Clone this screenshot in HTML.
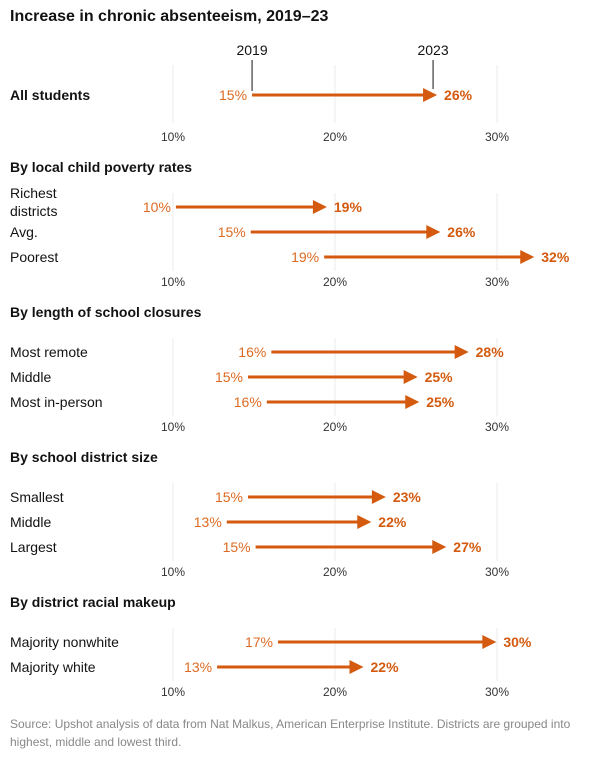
<!DOCTYPE html>
<html><head><meta charset="utf-8">
<style>
html,body{margin:0;padding:0;background:#fff;}
body{width:604px;height:767px;overflow:hidden;font-family:"Liberation Sans",sans-serif;}
svg text{font-family:"Liberation Sans",sans-serif;}
</style></head>
<body>
<svg id="chart" width="604" height="767" xmlns="http://www.w3.org/2000/svg">
<text x="10" y="21" font-size="16" font-weight="bold" fill="#121212">Increase in chronic absenteeism, 2019–23</text>
<text x="10" y="728" font-size="12" fill="#888">Source: Upshot analysis of data from Nat Malkus, American Enterprise Institute. Districts are grouped into</text>
<text x="10" y="746" font-size="12" fill="#888">highest, middle and lowest third.</text>
</svg>
<script>
var sectionTitles = ["", "By local child poverty rates", "By length of school closures", "By school district size", "By district racial makeup"];
var rowLabels = [["All students"], ["Richest|districts", "Avg.", "Poorest"], ["Most remote", "Middle", "Most in-person"], ["Smallest", "Middle", "Largest"], ["Majority nonwhite", "Majority white"]];
var startValues = [[14.88], [10.18, 14.8, 19.33], [16.07, 14.63, 15.79], [14.63, 13.32, 15.1], [16.48, 12.72]];
var endValues = [[26.3], [19.5, 26.5, 32.3], [28.25, 25.1, 25.2], [23.14, 22.24, 26.87], [29.96, 21.76]];
var startLabels = [["15%"], ["10%", "15%", "19%"], ["16%", "15%", "16%"], ["15%", "13%", "15%"], ["17%", "13%"]];
var endLabels = [["26%"], ["19%", "26%", "32%"], ["28%", "25%", "25%"], ["23%", "22%", "27%"], ["30%", "22%"]];
var ticks = [10, 20, 30];
var tickLabels = ["10%", "20%", "30%"];

var svg = document.getElementById('chart');
var NS = 'http://www.w3.org/2000/svg';
function x(v){ return 173 + (v - 10) * 16.2; }
function mk(tag, attrs){ var e = document.createElementNS(NS, tag); for (var k in attrs) e.setAttribute(k, attrs[k]); svg.appendChild(e); return e; }

var headerY = [null, 167, 312, 457, 602];
var firstRowY = [95, 207, 352, 497, 642];
var rowGap = 25;
var axisY = [137, 282, 427, 572, 692];
var ORANGE = '#d35a0e';

for (var s = 0; s < sectionTitles.length; s++) {
  if (sectionTitles[s]) {
    var h = mk('text', {x: 10, y: headerY[s] + 5, 'font-size': 14, 'font-weight': 'bold', fill: '#121212'});
    h.textContent = sectionTitles[s];
    
    
  }
  var n = rowLabels[s].length;
  var gTop = firstRowY[s] - 30, gBot = firstRowY[s] + 28;
  if (s > 0) { gTop = firstRowY[s] - 14; gBot = firstRowY[s] + (n - 1) * rowGap + 14; }
  for (var t = 0; t < ticks.length; t++) {
    var gl = mk('line', {x1: x(ticks[t]), x2: x(ticks[t]), y1: gTop, y2: gBot, stroke: '#ebebeb', 'stroke-width': 1});
    
    
    var tl = mk('text', {x: x(ticks[t]), y: axisY[s] + 4, 'font-size': 12, fill: '#333', 'text-anchor': 'middle'});
    tl.textContent = tickLabels[t];
    
    
  }
  for (var r = 0; r < n; r++) {
    var y = firstRowY[s] + r * rowGap;
    var parts = rowLabels[s][r].split('|');
    for (var p = 0; p < parts.length; p++) {
      var ly = parts.length > 1 ? y - 14 + p * 18 + 5 : y + 5;
      var lab = mk('text', {x: 10, y: ly, 'font-size': 14, fill: '#121212', 'font-weight': s === 0 ? 'bold' : 'normal'});
      lab.textContent = parts[p];
      
      
    }
    var x0 = x(startValues[s][r]), x1 = x(endValues[s][r]);
    var ln = mk('line', {x1: x0, x2: x1 - 12, y1: y, y2: y, stroke: ORANGE, 'stroke-width': 3});
    
    
    var hd = mk('polygon', {points: (x1 - 14) + ',' + (y - 7) + ' ' + x1 + ',' + y + ' ' + (x1 - 14) + ',' + (y + 7), fill: ORANGE});
    
    
    var sl = mk('text', {x: x0 - 5, y: y + 5, 'font-size': 14, fill: '#dc6a22', 'text-anchor': 'end'});
    sl.textContent = startLabels[s][r];
    
    
    var el = mk('text', {x: x1 + 7, y: y + 5, 'font-size': 14, 'font-weight': 'bold', fill: ORANGE});
    el.textContent = endLabels[s][r];
    
    
    if (s === 0) {
      var l1 = mk('line', {x1: x0, x2: x0, y1: 60, y2: y - 4, stroke: '#121212', 'stroke-width': 1});
      
      
      var t1 = mk('text', {x: x0, y: 55, 'font-size': 14, fill: '#121212', 'text-anchor': 'middle'});
      t1.textContent = '2019';
      
      
      var l2 = mk('line', {x1: x1 - 4, x2: x1 - 4, y1: 60, y2: y - 6, stroke: '#121212', 'stroke-width': 1});
      
      
      var t2 = mk('text', {x: x1 - 4, y: 55, 'font-size': 14, fill: '#121212', 'text-anchor': 'middle'});
      t2.textContent = '2023';
      
      
    }
  }
}
</script>
</body></html>
